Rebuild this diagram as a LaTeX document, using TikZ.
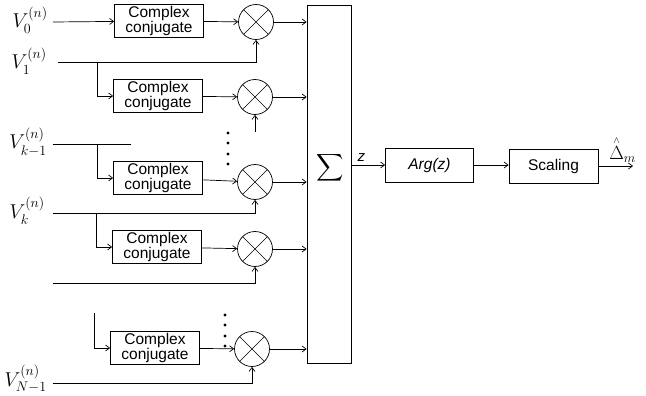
\documentclass[tikz,border=0pt]{standalone}
\usepackage{fix-cm}
\usepackage{amsmath,amssymb}
\usepackage{fontspec}
\setsansfont{Liberation Sans}
\usetikzlibrary{arrows.meta}

\tikzset{
  conjbox/.style={draw, minimum width=89pt, minimum height=33pt, inner sep=1pt,
    align=center, font=\sffamily\fontsize{15.5}{14}\selectfont},
  blockbox/.style={draw, minimum width=88pt, minimum height=34pt,
    font=\sffamily\fontsize{15.5}{15}\selectfont},
  mult/.style={draw, circle, minimum size=35pt, inner sep=0pt,
    path picture={\draw (path picture bounding box.north west)--(path picture bounding box.south east)
      (path picture bounding box.north east)--(path picture bounding box.south west);}},
  vlabel/.style={anchor=base east, inner sep=0pt, font=\fontsize{20}{20}\selectfont},
  sig/.style={-{Straight Barb[length=4pt,width=6pt]}}
}

\begin{document}
\begin{tikzpicture}[x=1pt, y=-1pt, line width=.7pt]
\useasboundingbox (0,0) rectangle (646,396);

% inputs
\node[vlabel] (v0) at (48,28) {$V_0^{(n)}$};
\node[vlabel] (v1) at (47,69) {$V_1^{(n)}$};
\node[vlabel] (vk1) at (47,149) {$V_{k-1}^{(n)}$};
\node[vlabel] (vk) at (45,218) {$V_k^{(n)}$};
\node[vlabel] (vn) at (47,386) {$V_{N-1}^{(n)}$};
\coordinate (s0) at (53,22);
\coordinate (s1) at (58,62);
\coordinate (s2) at (53,144);
\coordinate (s3) at (53,213);
\coordinate (u) at (53,283);
\coordinate (s4) at (53,383);

% conjugate boxes and multipliers
\node[conjbox] (b1) at (159,21) {Complex\\conjugate};
\node[conjbox] (b2) at (158,96) {Complex\\conjugate};
\node[conjbox] (b3) at (158,178) {Complex\\conjugate};
\node[conjbox] (b4) at (157,247) {Complex\\conjugate};
\node[conjbox] (b5) at (155,348) {Complex\\conjugate};
\node[mult] (c1) at (256,22) {};
\node[mult] (c2) at (255,97) {};
\node[mult] (c3) at (255,182) {};
\node[mult] (c4) at (255,249) {};
\node[mult] (c5) at (252,349) {};

% summation
\node[draw, minimum width=44pt, minimum height=358pt, inner sep=0pt] (sum) at (329,184) {};
\node (sigma) at (330,168) {\fontsize{19}{19}\selectfont$\displaystyle\sum$};

\node[blockbox] (arg) at (429.5,165) {\itshape Arg(z)};
\node[blockbox, minimum width=89pt] (scal) at (553.5,166) {Scaling};
\coordinate (out) at (633,166);

% junctions
\coordinate (j1) at (97,62);
\coordinate (j2) at (97,144);
\coordinate (e2) at (131,144);
\coordinate (j3) at (96,213);
\coordinate (j4) at (94,313);
\coordinate (t2) at (255,132);

% connectors
\draw[sig] (s0) -- (b1);
\draw[sig] (s1) -| (c1.south);
\draw[sig] (j1) |- (b2.west);
\draw (s2) -- (e2);
\draw[sig] (j2) |- (b3.west);
\draw[sig] (s3) -| (c3.south);
\draw[sig] (j3) |- (b4.west);
\draw[sig] (u) -| (c4.south);
\draw[sig] (j4) |- (b5.west);
\draw[sig] (s4) -| (c5.south);
\draw[sig] (t2) -- (c2.south);
\foreach \n in {1,...,5}{
  \draw[sig] (b\n) -- (c\n);
  \draw[sig] (c\n) -- (c\n -| sum.west);
}

% dots
\foreach \y in {133,143,154,164} \fill (228,\y) circle (1.6);
\foreach \y in {315,325,336,346} \fill (225,\y) circle (1.6);

\draw[sig] (sum.east |- arg) -- node[above, pos=.3, font=\sffamily\itshape\fontsize{15}{15}\selectfont] {z} (arg);
\draw[sig] (arg) -- (scal.west |- arg);
\draw[sig] (scal) -- node[above=3pt, pos=.7, inner sep=0pt, font=\fontsize{19}{19}\selectfont] {$\overset{\scriptscriptstyle\wedge}{\Delta}_m$} (out);
\end{tikzpicture}
\end{document}
